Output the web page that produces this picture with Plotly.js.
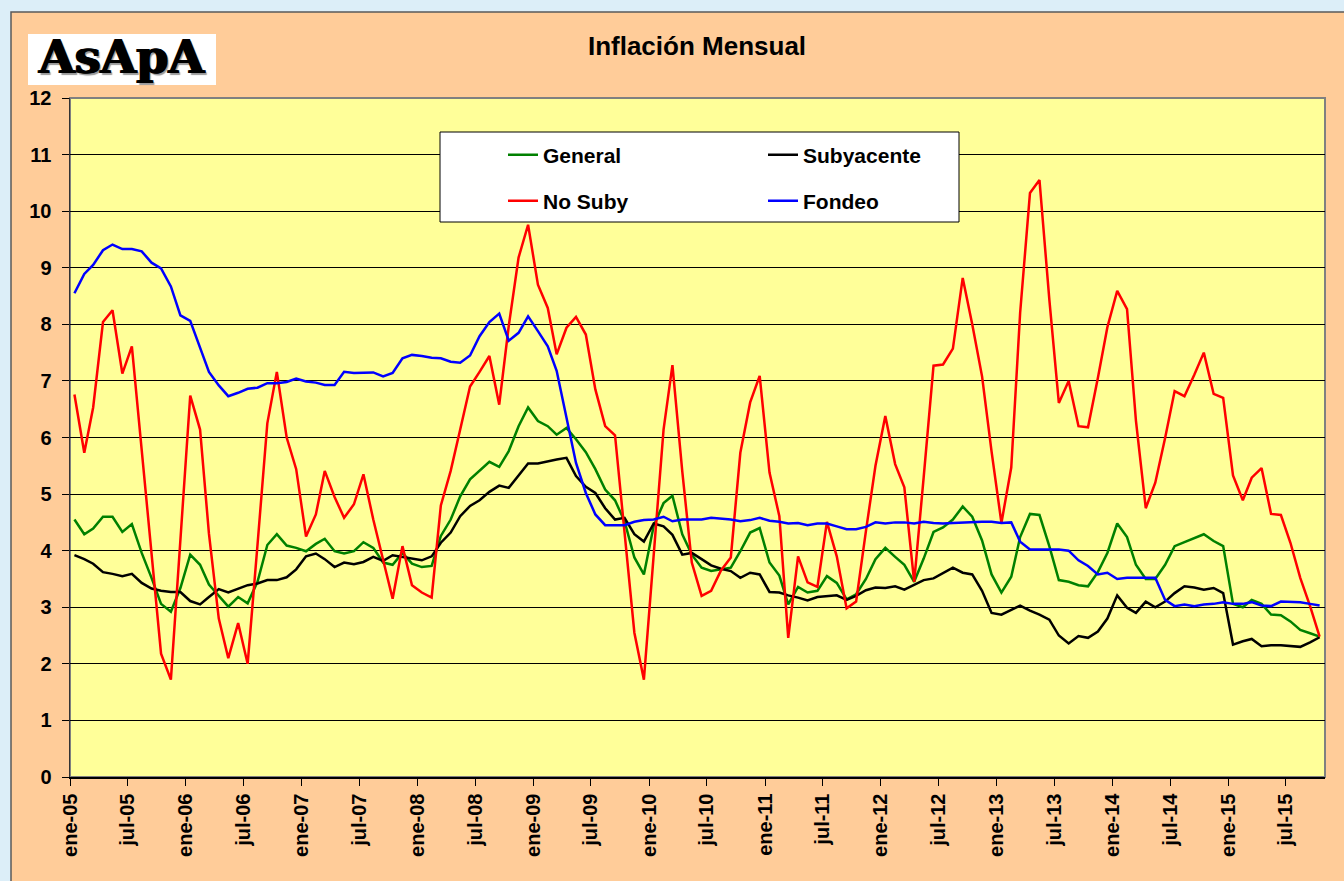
<!DOCTYPE html>
<html>
<head>
<meta charset="utf-8">
<script src="https://cdn.plot.ly/plotly-3.0.1.min.js"></script>
<style>
html,body{margin:0;padding:0;background:#DCEEF8;overflow:hidden;}
#chart{width:1344px;height:881px;}
</style>
</head>
<body>
<div id="chart"></div>
<script>
// Monthly series, ene-05 .. oct-15 (annual inflation, %)
const general = [
  4.55, 4.29, 4.39, 4.60, 4.60, 4.33, 4.47, 3.96, 3.52, 3.06, 2.92, 3.34,
  3.93, 3.75, 3.40, 3.20, 3.01, 3.18, 3.07, 3.45, 4.10, 4.29, 4.09, 4.05,
  3.99, 4.12, 4.21, 3.99, 3.95, 3.99, 4.15, 4.05, 3.79, 3.75, 3.96, 3.77,
  3.71, 3.73, 4.26, 4.55, 4.96, 5.26, 5.41, 5.57, 5.48, 5.76, 6.20, 6.53,
  6.29, 6.20, 6.05, 6.17, 5.97, 5.74, 5.44, 5.08, 4.89, 4.52, 3.88, 3.58,
  4.44, 4.84, 4.97, 4.29, 3.93, 3.70, 3.64, 3.67, 3.70, 3.99, 4.32, 4.40,
  3.79, 3.56, 3.05, 3.36, 3.26, 3.29, 3.55, 3.43, 3.14, 3.23, 3.50, 3.85,
  4.05, 3.89, 3.75, 3.45, 3.86, 4.33, 4.41, 4.55, 4.78, 4.60, 4.18, 3.58,
  3.26, 3.54, 4.24, 4.65, 4.63, 4.08, 3.48, 3.45, 3.39, 3.37, 3.62, 3.96,
  4.48, 4.24, 3.75, 3.50, 3.50, 3.75, 4.08, 4.15, 4.22, 4.29, 4.17, 4.08,
  3.06, 3.00, 3.13, 3.06, 2.87, 2.86, 2.75, 2.60, 2.54, 2.48
];
const subyacente = [
  3.92, 3.85, 3.77, 3.62, 3.59, 3.55, 3.59, 3.43, 3.33, 3.29, 3.27, 3.27,
  3.11, 3.05, 3.18, 3.32, 3.26, 3.33, 3.39, 3.42, 3.48, 3.48, 3.53, 3.67,
  3.90, 3.95, 3.85, 3.71, 3.79, 3.76, 3.80, 3.89, 3.82, 3.92, 3.89, 3.87,
  3.83, 3.90, 4.14, 4.32, 4.61, 4.79, 4.89, 5.04, 5.15, 5.11, 5.33, 5.54,
  5.54, 5.58, 5.61, 5.64, 5.32, 5.13, 5.02, 4.75, 4.55, 4.58, 4.29, 4.16,
  4.48, 4.43, 4.28, 3.93, 3.96, 3.85, 3.74, 3.68, 3.64, 3.52, 3.61, 3.58,
  3.27, 3.26, 3.21, 3.17, 3.12, 3.18, 3.20, 3.21, 3.13, 3.20, 3.30, 3.35,
  3.34, 3.37, 3.31, 3.40, 3.48, 3.51, 3.61, 3.70, 3.61, 3.58, 3.29, 2.90,
  2.87, 2.96, 3.03, 2.94, 2.87, 2.78, 2.50, 2.36, 2.49, 2.46, 2.57, 2.80,
  3.21, 2.99, 2.90, 3.10, 3.00, 3.10, 3.25, 3.37, 3.35, 3.31, 3.34, 3.25,
  2.34, 2.40, 2.44, 2.31, 2.33, 2.33, 2.31, 2.30, 2.38, 2.47
];
const noSuby = [
  6.76, 5.73, 6.53, 8.04, 8.25, 7.13, 7.61, 5.80, 4.00, 2.18, 1.72, 4.20,
  6.74, 6.14, 4.30, 2.80, 2.10, 2.72, 2.00, 4.10, 6.25, 7.16, 6.00, 5.44,
  4.25, 4.64, 5.41, 4.95, 4.58, 4.82, 5.35, 4.55, 3.85, 3.15, 4.08, 3.39,
  3.26, 3.17, 4.80, 5.41, 6.14, 6.90, 7.16, 7.44, 6.58, 7.97, 9.18, 9.76,
  8.70, 8.29, 7.47, 7.94, 8.13, 7.82, 6.85, 6.20, 6.04, 4.30, 2.55, 1.72,
  3.90, 6.14, 7.28, 5.40, 3.79, 3.20, 3.29, 3.65, 3.88, 5.73, 6.62, 7.09,
  5.38, 4.61, 2.46, 3.90, 3.44, 3.36, 4.51, 3.90, 2.98, 3.10, 4.35, 5.50,
  6.38, 5.53, 5.12, 3.45, 5.30, 7.27, 7.29, 7.57, 8.82, 8.00, 7.08, 5.75,
  4.49, 5.47, 8.20, 10.32, 10.55, 8.44, 6.61, 7.00, 6.20, 6.18, 7.05, 7.95,
  8.59, 8.27, 6.30, 4.75, 5.20, 5.99, 6.82, 6.73, 7.11, 7.50, 6.77, 6.70,
  5.33, 4.89, 5.29, 5.46, 4.65, 4.63, 4.14, 3.52, 3.02, 2.48
];
const fondeo = [
  8.55, 8.89, 9.05, 9.31, 9.41, 9.33, 9.33, 9.29, 9.09, 8.99, 8.67, 8.16,
  8.06, 7.59, 7.16, 6.92, 6.73, 6.79, 6.86, 6.88, 6.96, 6.96, 6.98, 7.04,
  6.99, 6.97, 6.93, 6.93, 7.16, 7.14, 7.15, 7.15, 7.08, 7.14, 7.40, 7.46,
  7.44, 7.41, 7.40, 7.34, 7.32, 7.45, 7.79, 8.04, 8.19, 7.71, 7.85, 8.14,
  7.88, 7.61, 7.18, 6.38, 5.55, 5.02, 4.64, 4.45, 4.45, 4.45, 4.51, 4.54,
  4.55, 4.60, 4.52, 4.55, 4.55, 4.55, 4.58, 4.57, 4.55, 4.52, 4.54, 4.58,
  4.53, 4.51, 4.48, 4.49, 4.45, 4.48, 4.48, 4.43, 4.38, 4.38, 4.42, 4.50,
  4.48, 4.50, 4.50, 4.48, 4.51, 4.49, 4.48, 4.49, 4.50, 4.50, 4.51, 4.51,
  4.49, 4.50, 4.16, 4.02, 4.02, 4.02, 4.02, 4.00, 3.83, 3.73, 3.58, 3.61,
  3.50, 3.52, 3.52, 3.52, 3.52, 3.13, 3.02, 3.05, 3.02, 3.05, 3.06, 3.09,
  3.06, 3.06, 3.09, 3.03, 3.02, 3.10, 3.10, 3.09, 3.06, 3.03
];
const seriesNames = ['General', 'Subyacente', 'No Suby', 'Fondeo'];
const tickLabels = ['ene-05','jul-05','ene-06','jul-06','ene-07','jul-07','ene-08','jul-08',
  'ene-09','jul-09','ene-10','jul-10','ene-11','jul-11','ene-12','jul-12','ene-13','jul-13',
  'ene-14','jul-14','ene-15','jul-15'];
const firstYear = 2005;

// dates of the observations (mid-month)
const dates = general.map((_, i) => {
  const y = firstYear + Math.floor(i / 12);
  const m = (i % 12) + 1;
  return y + '-' + String(m).padStart(2, '0') + '-15';
});
const tickVals = tickLabels.map((_, k) => (firstYear + Math.floor(k / 2)) + (k % 2 ? '-07-01' : '-01-01'));

// geometry helpers (page pixels -> paper fractions)
const W = 1344, H = 881, ML = 70, MR = 19, MT = 98, MB = 104;
const PW = W - ML - MR, PH = H - MT - MB;
const px = x => (x - ML) / PW;
const py = y => (H - MB - y) / PH;

const FONT = 'Arial, "Liberation Sans", sans-serif';
const colors = ['#008000', '#000000', '#FF0000', '#0000FF'];
const values = [general, subyacente, noSuby, fondeo];
const legendOf = ['legend', 'legend', 'legend2', 'legend2'];

const traces = values.map((v, k) => ({
  type: 'scatter', mode: 'lines', x: dates, y: v, name: seriesNames[k],
  line: {color: colors[k], width: 2.5},
  legend: legendOf[k], hoverinfo: 'skip'
}));

const legendCommon = {
  orientation: 'h', xanchor: 'left', yanchor: 'middle',
  entrywidth: 215, entrywidthmode: 'pixels',
  bgcolor: 'rgba(0,0,0,0)', borderwidth: 0,
  font: {family: FONT, size: 21, weight: 'bold', color: '#000'}
};

const layout = {
  width: W, height: H,
  margin: {l: ML, r: MR, t: MT, b: MB, pad: 0},
  paper_bgcolor: '#DCEEF8',
  plot_bgcolor: 'rgba(0,0,0,0)',
  font: {family: FONT, color: '#000'},
  title: {
    text: 'Inflación Mensual', xref: 'container', x: 697 / W, xanchor: 'center',
    yref: 'container', y: 1 - 46 / H, yanchor: 'middle',
    font: {family: FONT, size: 26, weight: 'bold', color: '#000'}
  },
  xaxis: {
    type: 'date', range: ['2005-01-01', '2015-11-01'],
    tickmode: 'array', tickvals: tickVals, ticktext: tickLabels,
    tickangle: -90, ticks: 'outside', ticklen: 7, tickwidth: 1, tickcolor: '#000',
    tickfont: {family: FONT, size: 20, weight: 'bold', color: '#000'},
    showgrid: false, zeroline: false,
    showline: true, linecolor: '#000', linewidth: 1.5,
    ticklabelstandoff: 0
  },
  yaxis: {
    range: [0, 12], tick0: 0, dtick: 1,
    ticks: 'outside', ticklen: 7, tickwidth: 1, tickcolor: '#000',
    tickfont: {family: FONT, size: 20, weight: 'bold', color: '#000'},
    showgrid: true, gridcolor: '#000', gridwidth: 1, zeroline: false,
    showline: true, linecolor: '#333', linewidth: 1.5,
    ticklabelstandoff: 6
  },
  legend: Object.assign({x: px(503), y: py(155)}, legendCommon),
  legend2: Object.assign({x: px(503), y: py(201)}, legendCommon),
  shapes: [
    {type: 'rect', xref: 'paper', yref: 'paper', layer: 'below',
     x0: px(11), x1: px(1360), y0: py(900), y1: py(12),
     fillcolor: '#FFCC99', line: {color: '#5a5a5a', width: 1.5}},
    {type: 'rect', xref: 'paper', yref: 'paper', layer: 'below',
     x0: 0, x1: 1, y0: 0, y1: 1,
     fillcolor: '#FFFF99', line: {color: '#808080', width: 2}},
    {type: 'rect', xref: 'paper', yref: 'paper', layer: 'below',
     x0: px(28), x1: px(216), y0: py(85), y1: py(34),
     fillcolor: '#FFFFFF', line: {width: 0}},
    {type: 'rect', xref: 'paper', yref: 'paper', layer: 'above',
     x0: px(440), x1: px(959), y0: py(222), y1: py(132),
     fillcolor: '#FFFFFF', line: {color: '#000', width: 1}}
  ],
  annotations: [
    {text: 'AsApA', xref: 'paper', yref: 'paper', x: px(121), y: py(57),
     xanchor: 'center', yanchor: 'middle', showarrow: false,
     font: {family: '"DejaVu Serif", serif', size: 46, weight: 'bold', color: '#000',
            shadow: '1px 0 0 #000, -1px 0 0 #000, 2px 2px 1px #999'}}
  ],
  showlegend: true
};

Plotly.newPlot('chart', traces, layout, {displayModeBar: false, staticPlot: true});
</script>
</body>
</html>
